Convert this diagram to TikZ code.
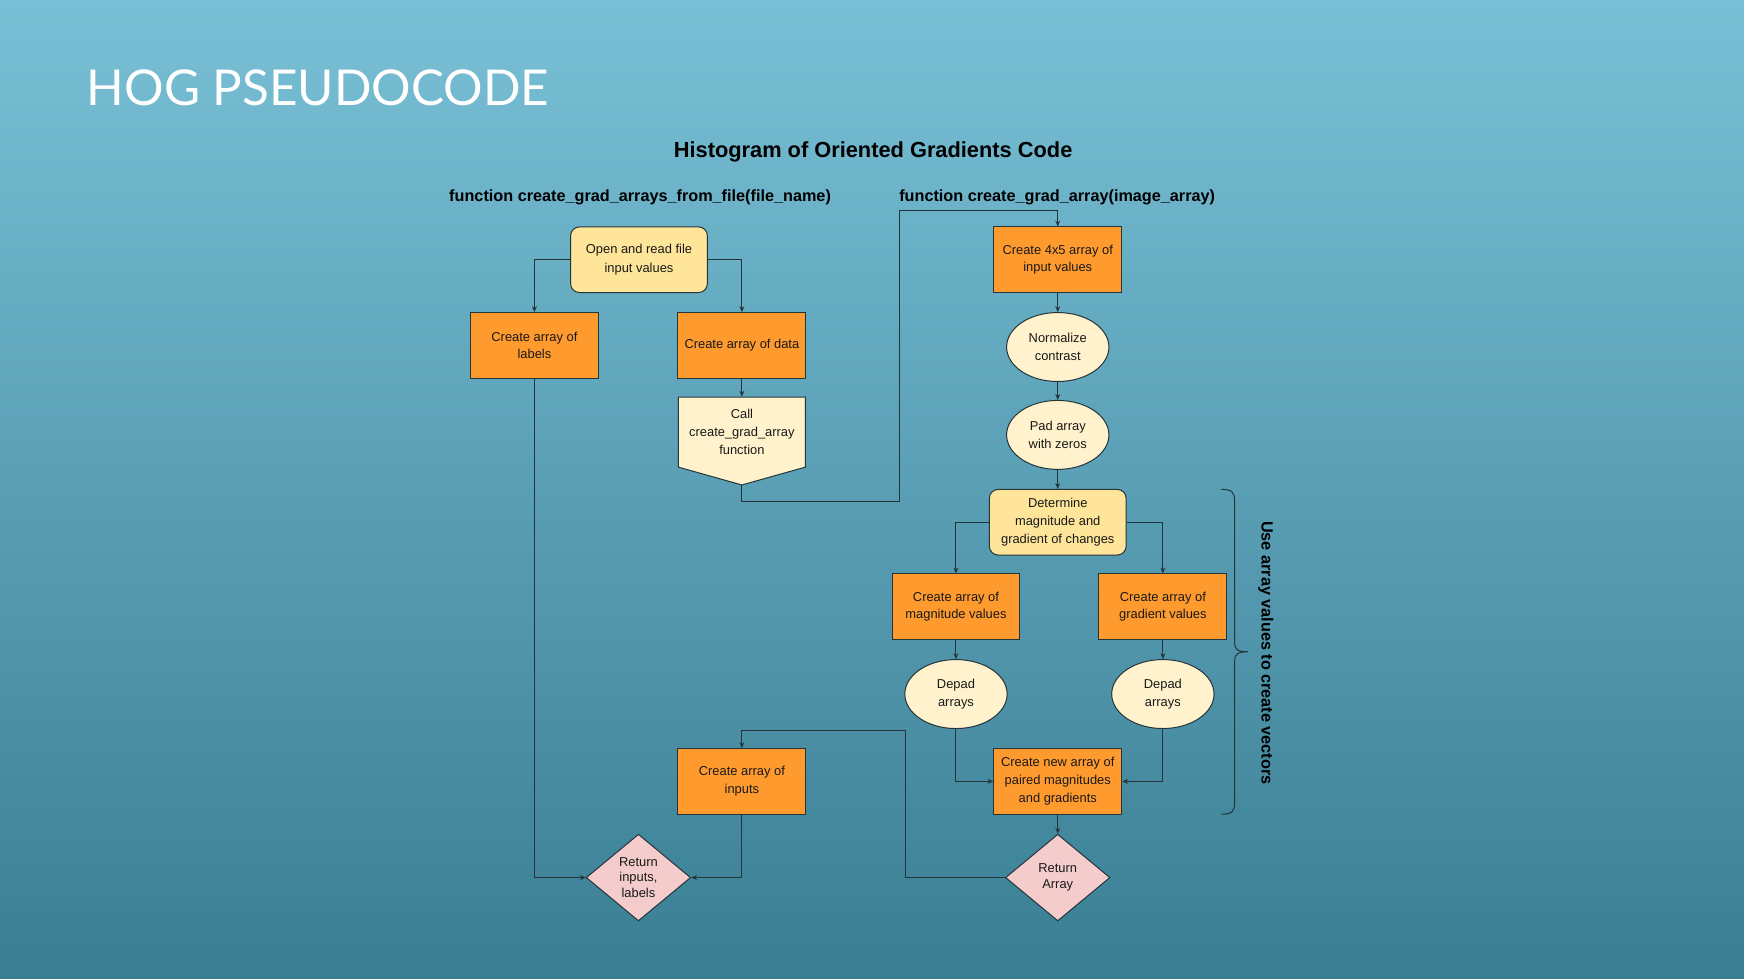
\documentclass[tikz,border=0pt]{standalone}
\usepackage{fontspec}
\setmainfont{Liberation Sans}
\newfontfamily\titlefont{Lato}
\usetikzlibrary{shapes.geometric,arrows.meta}

\definecolor{bgtop}{HTML}{79C0D6}
\definecolor{bgbot}{HTML}{3A7E93}
\definecolor{boxorange}{HTML}{FF9A2E}
\definecolor{startyellow}{HTML}{FFE599}
\definecolor{ovalcream}{HTML}{FFF2CC}
\definecolor{retpink}{HTML}{F4CCCC}
\definecolor{linec}{HTML}{23343A}

\begin{document}
\begin{tikzpicture}[x=0.5pt,y=-0.5pt,>={Stealth[length=2.6pt,width=2.2pt]},line width=0.45pt,
    proc node/.style={rectangle,draw=linec,fill=boxorange,minimum width=57.5pt,minimum height=29.5pt,inner sep=0pt,align=center,text=black!90,font=\fontsize{5.8}{8}\selectfont},
    start node/.style={proc node,rounded corners=4pt,fill=startyellow,minimum width=61.5pt},
    oval node/.style={ellipse,draw=linec,fill=ovalcream,minimum width=46pt,minimum height=31pt,inner sep=0pt,align=center,text=black!90,font=\fontsize{5.8}{8}\selectfont},
    ret node/.style={diamond,draw=linec,fill=retpink,minimum width=47pt,minimum height=39pt,inner sep=0pt,align=center,text=black!90,font=\fontsize{5.8}{7}\selectfont},
    head node/.style={text=black,font=\bfseries\fontsize{7.3}{9}\selectfont}]

            % background
            \shade[top color=bgtop,bottom color=bgbot] (0,0) rectangle (1568,879.3);

            % titles
            \node[anchor=base west,text=white,font=\titlefont\fontsize{22.2}{26}\selectfont] (0) at (71,95) {HOG PSEUDOCODE};
            \node[head node,font=\bfseries\fontsize{9.8}{12}\selectfont] (h0) at (785,137) {Histogram of Oriented Gradients Code};
            \node[head node] (h1) at (575.5,177) {function create\_grad\_arrays\_from\_file(file\_name)};
            \node[head node] (h2) at (950.5,177) {function create\_grad\_array(image\_array)};

            % left function
            \node[start node,font=\fontsize{5.8}{8.5}\selectfont] (1) at (574.5,233.5) {Open and read file\\input values};
            \node[proc node] (2) at (480.5,310.5) {Create array of\\labels};
            \node[proc node] (3) at (667,310.5) {Create array of data};
            \fill[ovalcream,draw=linec] (610,357) -- (724,357) -- (724,420) -- (667,436) -- (610,420) -- cycle;
            \node[align=center,inner sep=0pt,minimum width=57pt,minimum height=31.5pt,text=black!90,font=\fontsize{5.8}{8}\selectfont] (4) at (667,388.5) {Call\\create\_grad\_array\\function};
            \coordinate (4t) at (667,436);

            % right function
            \node[proc node] (5) at (951,233.5) {Create 4x5 array of\\input values};
            \node[oval node] (6) at (951,312) {Normalize\\contrast};
            \node[oval node] (7) at (951,391) {Pad array\\with zeros};
            \node[start node] (8) at (951,469.5) {Determine\\magnitude and\\gradient of changes};
            \node[proc node] (9) at (859.5,545.5) {Create array of\\magnitude values};
            \node[proc node] (10) at (1045.5,545.5) {Create array of\\gradient values};
            \node[oval node] (11) at (859.5,624) {Depad\\arrays};
            \node[oval node] (12) at (1045.5,624) {Depad\\arrays};
            \node[proc node] (13) at (951,702.5) {Create new array of\\paired magnitudes\\and gradients};
            \node[ret node] (14) at (951,789) {Return\\Array};

            % back in the left function
            \node[proc node] (15) at (667,702.5) {Create array of\\inputs};
            \node[ret node] (16) at (574,789) {Return\\inputs,\\labels};

            \coordinate (c1) at (809,451);
            \coordinate (c2) at (809,189);
            \coordinate (c3) at (814,657);

            \draw[->,linec] (1.west) -| (2.north);
            \draw[->,linec] (1.east) -| (3.north);
            \draw[->,linec] (3) to (4);
            \draw[->,linec] (4t) |- (c1) -- (c2) -| (5.north);
            \draw[->,linec] (5) to (6);
            \draw[->,linec] (6) to (7);
            \draw[->,linec] (7) to (8);
            \draw[->,linec] (8.west) -| (9.north);
            \draw[->,linec] (8.east) -| (10.north);
            \draw[->,linec] (9) to (11);
            \draw[->,linec] (10) to (12);
            \draw[->,linec] (11.south) |- (13.west);
            \draw[->,linec] (12.south) |- (13.east);
            \draw[->,linec] (13) to (14);
            \draw[->,linec] (14.west) -| (c3) -| (15.north);
            \draw[->,linec] (15.south) |- (16.east);
            \draw[->,linec] (2.south) |- (16.west);

            % brace
            \draw[linec] (1098,440) .. controls (1107,440) and (1110,442) .. (1110,450) -- (1110,578) .. controls (1110,584) and (1113,586) .. (1122,586) .. controls (1113,586) and (1110,588) .. (1110,594) -- (1110,722) .. controls (1110,730) and (1107,732) .. (1098,732);
            \node[head node,rotate=-90] (b) at (1138,587) {Use array values to create vectors};

            ;
        \end{tikzpicture}
\end{document}
